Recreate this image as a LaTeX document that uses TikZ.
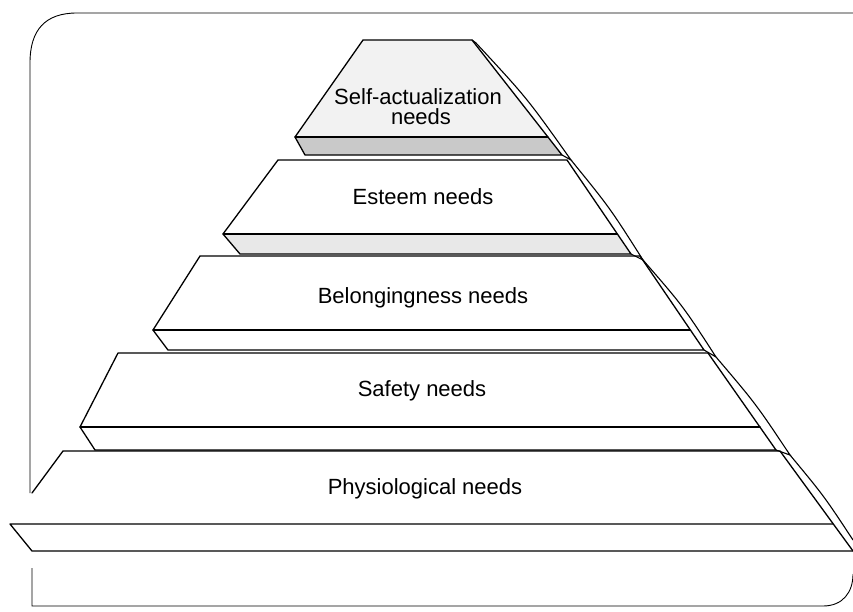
\documentclass[tikz,border=0pt]{standalone}
\usepackage{fontspec}
\setmainfont{Liberation Sans}
\begin{document}
\begin{tikzpicture}[x=1pt,y=-1pt]
\tikzset{
  tierline/.style={draw=black, line width=1.3pt, line join=round, line cap=round},
  sideline/.style={draw=black, line width=1.1pt, line cap=round},
  frameline/.style={draw=black, line width=0.9pt},
  lbl/.style={font=\fontsize{22}{26}\selectfont, anchor=base, inner sep=0pt},
}
\useasboundingbox (0,0) rectangle (853,611);

% ---- frame
\draw[frameline] (30,493) -- (30,63) .. controls (30,30) and (45,13) .. (77,13) -- (853,13);
\draw[frameline] (32,568) -- (32,606) -- (823,606) .. controls (843,606) and (853,592) .. (853,574);

% ---- tier 1 : self-actualization
\coordinate (tl1) at (363,40);  \coordinate (tr1) at (472,40);
\coordinate (br1) at (548,137); \coordinate (bl1) at (295,137);
\coordinate (sbl1) at (305,155); \coordinate (sbr1) at (562,155);
\coordinate (o1) at (476,43);
\coordinate (n1) at (571,160);
\fill[gray!10] (tl1) -- (tr1) -- (br1) -- (bl1) -- cycle;
\fill[gray!42] (bl1) -- (br1) -- (sbr1) -- (sbl1) -- cycle;
\draw[tierline] (tl1) -- (tr1) -- (sbr1) -- (sbl1) -- (bl1) -- cycle;
\draw[tierline] (bl1) -- (br1);
\draw[sideline] (tr1) -- (o1) .. controls (527,98) .. (n1) -- (sbr1);

% ---- tier 2 : esteem
\coordinate (tl2) at (278,160);  \coordinate (tr2) at (567,160);
\coordinate (br2) at (617,234);  \coordinate (bl2) at (223,234);
\coordinate (sbl2) at (240,254); \coordinate (sbr2) at (631,254);
\coordinate (n2) at (643,260);
\fill[gray!18] (bl2) -- (br2) -- (sbr2) -- (sbl2) -- cycle;
\draw[tierline] (tl2) -- (tr2) -- (sbr2) -- (sbl2) -- (bl2) -- cycle;
\draw[tierline] (bl2) -- (br2);
\draw[sideline] (n1) .. controls (610,208) .. (n2) -- (sbr2);

% ---- tier 3 : belongingness
\coordinate (tl3) at (200,256);  \coordinate (tr3) at (640,256);
\coordinate (br3) at (690,330);  \coordinate (bl3) at (153,330);
\coordinate (sbl3) at (168,350); \coordinate (sbr3) at (704,350);
\coordinate (n3) at (716,357);
\draw[tierline] (tl3) -- (tr3) -- (sbr3) -- (sbl3) -- (bl3) -- cycle;
\draw[tierline] (bl3) -- (br3);
\draw[sideline] (n2) .. controls (683,306) .. (n3) -- (sbr3);

% ---- tier 4 : safety
\coordinate (tl4) at (118,353);  \coordinate (tr4) at (708,353);
\coordinate (br4) at (760,427);  \coordinate (bl4) at (80,427);
\coordinate (sbl4) at (95,450);  \coordinate (sbr4) at (776,450);
\coordinate (n4) at (790,455);
\draw[tierline] (tl4) -- (tr4) -- (sbr4) -- (sbl4) -- (bl4) -- cycle;
\draw[tierline] (bl4) -- (br4);
\draw[sideline] (n3) .. controls (756,404) .. (n4) -- (sbr4);

% ---- tier 5 : physiological
\coordinate (gap5) at (32,493);
\coordinate (tl5) at (63,451);   \coordinate (tr5) at (780,451);
\coordinate (br5) at (833,524);  \coordinate (bl5) at (10,524);
\coordinate (sbl5) at (32,551);  \coordinate (sbr5) at (853,551);
\coordinate (n5) at (853,540);
\draw[tierline] (gap5) -- (tl5) -- (tr5) -- (sbr5);
\draw[tierline] (br5) -- (bl5) -- (sbl5) -- (sbr5);
\draw[sideline] (n4) .. controls (824,496) .. (n5);

% ---- labels
\node[lbl] (self) at (418,104) {Self-actualization};
\node[lbl] (selfb) at (421,124) {needs};
\node[lbl] (esteem) at (423,204) {Esteem needs};
\node[lbl] (belong) at (423,303) {Belongingness needs};
\node[lbl] (safety) at (422,396) {Safety needs};
\node[lbl] (physio) at (425,494) {Physiological needs};
\end{tikzpicture}
\end{document}
